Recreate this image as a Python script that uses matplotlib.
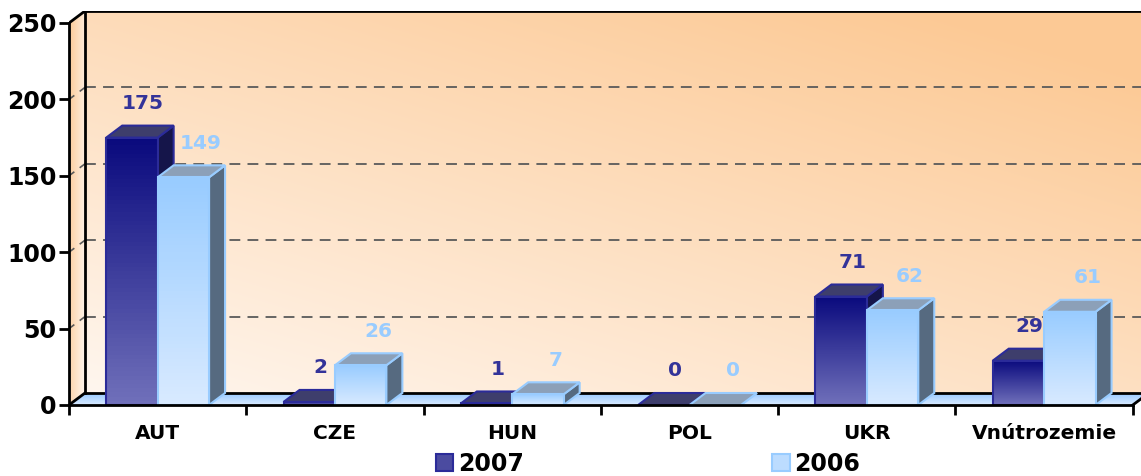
import numpy as np
import matplotlib
matplotlib.use("Agg")
import matplotlib.pyplot as plt
from matplotlib.patches import Polygon, Patch
from matplotlib.colors import LinearSegmentedColormap

# data
categories = ['AUT', 'CZE', 'HUN', 'POL', 'UKR', 'Vnútrozemie']
vals_2007 = [175, 2, 1, 0, 71, 29]
vals_2006 = [149, 26, 7, 0, 62, 61]
series_names = ['2007', '2006']
yticks = [0, 50, 100, 150, 200, 250]

plt.rcParams['font.family'] = ['DejaVu Sans']

fig = plt.figure(figsize=(11.41, 4.76), dpi=100)
# front plane of the 3d box: x=69px, y 0 at 405px, 1.528 px per unit
cat_px = 177.3
ax = fig.add_axes([69 / 1141, 71 / 476, (1141 - 69) / 1141, 394 / 476])
DX = 16 / cat_px      # depth offset in data x
DY = 12 / 1.528       # depth offset in data y
YMAX = 250
xmax = (1141 - 69) / cat_px
n = len(categories)

# back wall gradient (light lower left -> orange upper right)
gx, gy = np.meshgrid(np.linspace(0, 1, 200), np.linspace(1, 0, 200))
t = np.clip(0.5 * gx + 0.6 * gy, 0, 1)[..., None]
light = np.array([1.0, 0.965, 0.935])
orange = np.array([0.99, 0.79, 0.585])
ax.imshow(light + (orange - light) * t, extent=[DX, xmax, DY, YMAX + DY],
          aspect='auto', zorder=0, interpolation='bilinear')

# side wall, orange at the front edge fading to the back
side = Polygon([(0, 0), (DX, DY), (DX, YMAX + DY), (0, YMAX)], closed=True,
               facecolor='none', edgecolor='none')
ax.add_patch(side)
t2 = np.clip(0.75 * (1 - gx) + 0.25 * gy, 0, 1)[..., None]
im = ax.imshow(light + (orange - light) * t2, extent=[0, DX, 0, YMAX + DY],
               aspect='auto', zorder=0, interpolation='bilinear')
im.set_clip_path(side)

# floor
floor = Polygon([(0, 0), (n, 0), (n + DX, DY), (DX, DY)], closed=True,
                facecolor='none', edgecolor='none')
ax.add_patch(floor)
fl = np.linspace(0, 1, 50)[:, None, None] * np.ones((50, 10, 1))
blue_a = np.array([0.60, 0.79, 1.0])
blue_b = np.array([0.85, 0.92, 1.0])
im = ax.imshow(blue_a + (blue_b - blue_a) * fl, extent=[0, n + DX, 0, DY],
               aspect='auto', zorder=0.5)
im.set_clip_path(floor)

# dashed gridlines on wall and side wall
for v in yticks[1:-1]:
    ax.plot([DX, xmax], [v + DY, v + DY], color='#5a5a5a', lw=1.3,
            dashes=(6, 4), zorder=1)
    ax.plot([0, DX], [v, v + DY], color='#5a5a5a', lw=1.2,
            dashes=(4, 4), zorder=1)

# frame lines
frame_kw = dict(color='black', lw=2, zorder=2, solid_capstyle='projecting')
ax.plot([DX, DX], [DY, YMAX + DY], **frame_kw)
ax.plot([DX, xmax], [YMAX + DY, YMAX + DY], **frame_kw)
ax.plot([0, DX], [YMAX, YMAX + DY], **frame_kw)
ax.plot([DX, xmax], [DY, DY], **frame_kw)
ax.plot([0, DX], [0, DY], **frame_kw)
ax.plot([n, n + DX], [0, DY], color='black', lw=2, zorder=10, clip_on=False)

# bar styles
BW = 0.29
styles = [
    dict(front=['#0a0a7e', '#7070ba'], edge='#2b2b99', top='#3e3e6c',
         side='#15154a', label='#333399', dx_lab=0.7),
    dict(front=['#99ccff', '#d8eaff'], edge='#99ccff', top='#8ca0b8',
         side='#566a80', label='#99ccff', dx_lab=1.1),
]
centers = np.arange(n) + 0.5
grad = np.linspace(0, 1, 64)[:, None]

for s, vals in enumerate([vals_2007, vals_2006]):
    st = styles[s]
    cmap = LinearSegmentedColormap.from_list('g%d' % s, st['front'])
    x0s = centers - BW + s * BW
    bars = ax.bar(x0s, vals, width=BW, align='edge', facecolor='none',
                  edgecolor=st['edge'], lw=1.5, zorder=5 + 3 * s)
    for x0, h, rect in zip(x0s, vals, bars):
        z = 3 + 3 * s
        # side face
        ax.add_patch(Polygon([(x0 + BW, 0), (x0 + BW + DX, DY),
                              (x0 + BW + DX, h + DY), (x0 + BW, h)],
                             facecolor=st['side'], edgecolor=st['edge'],
                             lw=1.5, zorder=z))
        # top face
        ax.add_patch(Polygon([(x0, h), (x0 + BW, h), (x0 + BW + DX, h + DY),
                              (x0 + DX, h + DY)],
                             facecolor=st['top'], edgecolor=st['edge'],
                             lw=1.5, zorder=z + 1))
        if h > 0:
            im = ax.imshow(grad, extent=[x0, x0 + BW, 0, h], cmap=cmap,
                           aspect='auto', zorder=z + 1.5)
            im.set_clip_path(rect)
        ax.annotate(str(h), (x0 + BW / 2 + DX * st['dx_lab'], h + DY),
                    xytext=(0, 12), textcoords='offset points',
                    ha='center', va='baseline', color=st['label'],
                    fontsize=14.5, fontweight='bold', zorder=20)

ax.set_xlim(0, xmax)
ax.set_ylim(0, YMAX + DY)

for sp in ['top', 'right']:
    ax.spines[sp].set_visible(False)
ax.spines['left'].set_bounds(0, YMAX)
ax.spines['bottom'].set_bounds(0, n)
ax.spines['left'].set_linewidth(2)
ax.spines['bottom'].set_linewidth(2)
ax.spines['left'].set_zorder(12)
ax.spines['bottom'].set_zorder(12)

ax.set_yticks(yticks)
ax.set_yticklabels([str(v) for v in yticks], fontsize=17, fontweight='bold')
ax.tick_params(axis='y', length=7, width=2, pad=2)
ax.set_xticks(np.arange(n + 1))
ax.set_xticklabels([])
ax.tick_params(axis='x', which='major', length=7, width=2)
ax.set_xticks(centers, minor=True)
ax.set_xticklabels(categories, minor=True, fontsize=14.5, fontweight='bold')
ax.tick_params(axis='x', which='minor', length=0, pad=14)

handles = [Patch(facecolor='#4b4ba0', edgecolor='#2b2b99', lw=1.5),
           Patch(facecolor='#bcdcff', edgecolor='#99ccff', lw=1.5)]
fig.legend(handles, series_names, loc='center', ncol=2, frameon=False,
           bbox_to_anchor=(648 / 1141, 12 / 476),
           prop={'weight': 'bold', 'size': 17}, handlelength=0.75,
           handleheight=0.75, handletextpad=0.2, columnspacing=10.5,
           borderpad=0)

fig.savefig('out.png', dpi=100)
